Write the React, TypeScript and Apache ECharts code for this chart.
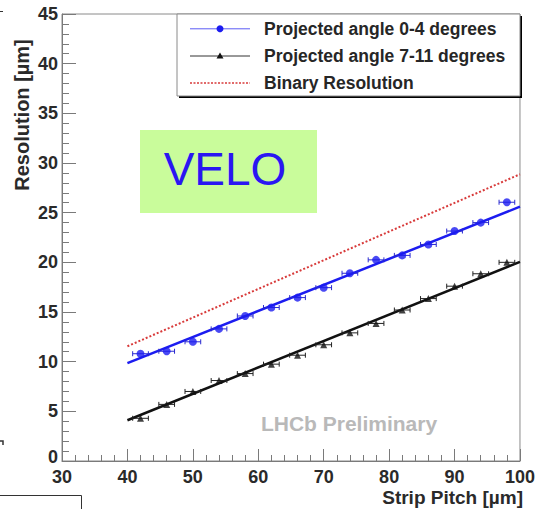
import React, { useEffect, useRef } from "react";
import * as echarts from "echarts";

// Strip pitch of each measured point [µm]
const pitch = [42, 46, 50, 54, 58, 62, 66, 70, 74, 78, 82, 86, 90, 94, 98];
// Measured resolution [µm], projected angle 0-4 degrees
const resLowAngle = [10.8, 11.05, 12.0, 13.3, 14.6, 15.45, 16.45, 17.45, 18.9, 20.25, 20.7, 21.8, 23.15, 24.0, 26.05];
// Measured resolution [µm], projected angle 7-11 degrees
const resHighAngle = [4.3, 5.7, 7.0, 8.1, 8.8, 9.75, 10.65, 11.7, 12.9, 13.85, 15.2, 16.35, 17.6, 18.85, 20.0];
// Half-width of the horizontal error bars [µm]
const pitchErr = 1.2;

// Straight-line fits and binary resolution, evaluated at the ends of the pitch range
const fitRange = [40, 100];
const fitLowAngle = [9.85, 25.6];
const fitHighAngle = [4.1, 20.05];
const binaryRes = [11.55, 28.87];

const xTicks = { min: 30, max: 100, interval: 10 };
const yTicks = { min: 0, max: 45, interval: 5 };

const legendNames = [
  "Projected angle 0-4 degrees",
  "Projected angle 7-11 degrees",
  "Binary Resolution",
];

const FONT = "'Liberation Sans', Arial, Helvetica, sans-serif";
const BLUE = "#1c1cf0";
const BLACK = "#111111";
const RED = "#d83a3a";

const pairs = (xs: number[], ys: number[]) => xs.map((x, i) => [x, ys[i]]);

function errorBars(color: string) {
  return (params: any, api: any) => {
    const x = api.value(0);
    const y = api.value(1);
    const a = api.coord([x - pitchErr, y]);
    const b = api.coord([x + pitchErr, y]);
    const st = { stroke: color, lineWidth: 1 };
    return {
      type: "group",
      children: [
        { type: "line", shape: { x1: a[0], y1: a[1], x2: b[0], y2: b[1] }, style: st },
        { type: "line", shape: { x1: a[0], y1: a[1] - 2.5, x2: a[0], y2: a[1] + 2.5 }, style: st },
        { type: "line", shape: { x1: b[0], y1: b[1] - 2.5, x2: b[0], y2: b[1] + 2.5 }, style: st },
      ],
    };
  };
}

export default function App() {
  const ref = useRef<HTMLDivElement>(null);

  useEffect(() => {
    if (!ref.current) return;
    const chart = echarts.init(ref.current, null, { renderer: "svg" });

    const axisLabel = {
      fontFamily: FONT,
      fontWeight: "bold",
      fontSize: 18,
      color: "#2a2a2a",
    };

    const legendRowY = [28.8, 56, 83];

    chart.setOption({
      animation: false,
      backgroundColor: "#ffffff",
      grid: {
        left: 62,
        right: 15,
        top: 14,
        bottom: 48,
        show: true,
        borderColor: "#8a8a8a",
        borderWidth: 1,
        backgroundColor: "transparent",
      },
      xAxis: {
        type: "value",
        min: xTicks.min,
        max: xTicks.max,
        interval: xTicks.interval,
        splitLine: { show: false },
        axisLine: { show: true, lineStyle: { color: "#7a7a7a", width: 1 } },
        axisTick: { show: true, inside: true, length: 12, lineStyle: { color: "#7a7a7a" } },
        minorTick: { show: true, splitNumber: 5, length: 6, lineStyle: { color: "#7a7a7a" } },
        axisLabel: { ...axisLabel, margin: 7 },
      },
      yAxis: {
        type: "value",
        min: yTicks.min,
        max: yTicks.max,
        interval: yTicks.interval,
        splitLine: { show: false },
        axisLine: { show: true, lineStyle: { color: "#7a7a7a", width: 1 } },
        axisTick: { show: true, inside: true, length: 14, lineStyle: { color: "#7a7a7a" } },
        minorTick: { show: true, splitNumber: 5, length: 7, lineStyle: { color: "#7a7a7a" } },
        axisLabel: {
          ...axisLabel,
          margin: 4,
          // the zero label sits a little higher so it clears the x-axis labels
          formatter: (v: number) => (v === 0 ? "{zero|0}" : String(v)),
          rich: {
            zero: {
              fontFamily: FONT,
              fontWeight: "bold",
              fontSize: 18,
              color: "#2a2a2a",
              padding: [0, 0, 8, 0],
            },
          },
        },
      },
      series: [
        {
          name: "binary",
          type: "line",
          data: pairs(fitRange, binaryRes),
          showSymbol: false,
          lineStyle: { color: RED, width: 2, type: [2, 2] },
          z: 2,
        },
        {
          name: "fitLow",
          type: "line",
          data: pairs(fitRange, fitLowAngle),
          showSymbol: false,
          lineStyle: { color: BLUE, width: 2.5 },
          z: 2,
        },
        {
          name: "fitHigh",
          type: "line",
          data: pairs(fitRange, fitHighAngle),
          showSymbol: false,
          lineStyle: { color: BLACK, width: 2.5 },
          z: 2,
        },
        {
          name: "errLow",
          type: "custom",
          data: pairs(pitch, resLowAngle),
          encode: { x: 0, y: 1 },
          renderItem: errorBars("#2a2ad0"),
          z: 3,
        },
        {
          name: "errHigh",
          type: "custom",
          data: pairs(pitch, resHighAngle),
          encode: { x: 0, y: 1 },
          renderItem: errorBars("#222222"),
          z: 3,
        },
        {
          name: legendNames[0],
          type: "scatter",
          data: pairs(pitch, resLowAngle),
          symbol: "circle",
          symbolSize: 8,
          itemStyle: { color: BLUE },
          z: 4,
        },
        {
          name: legendNames[1],
          type: "scatter",
          data: pairs(pitch, resHighAngle),
          symbol: "triangle",
          symbolSize: 7,
          itemStyle: { color: BLACK },
          z: 4,
        },
      ],
      graphic: [
        // VELO label box
        {
          type: "rect",
          shape: { x: 140, y: 130, width: 177, height: 83 },
          style: { fill: "#c9fc9b" },
          z: 1,
        },
        {
          type: "text",
          x: 225,
          y: 169,
          style: {
            text: "VELO",
            fontFamily: FONT,
            fontSize: 46,
            fill: "#2a16f2",
            align: "center",
            verticalAlign: "middle",
          },
          z: 1,
        },
        {
          type: "text",
          x: 349,
          y: 423,
          style: {
            text: "LHCb Preliminary",
            fontFamily: FONT,
            fontWeight: "bold",
            fontSize: 21,
            fill: "#b9b9b9",
            align: "center",
            verticalAlign: "middle",
          },
          z: 1,
        },
        // axis titles
        {
          type: "text",
          x: 22,
          y: 115,
          rotation: Math.PI / 2,
          style: {
            text: "Resolution [µm]",
            fontFamily: FONT,
            fontWeight: "bold",
            fontSize: 20,
            fill: "#2a2a2a",
            align: "center",
            verticalAlign: "middle",
          },
        },
        {
          type: "text",
          x: 523,
          y: 497,
          style: {
            text: "Strip Pitch [µm]",
            fontFamily: FONT,
            fontWeight: "bold",
            fontSize: 19,
            fill: "#2a2a2a",
            align: "right",
            verticalAlign: "middle",
          },
        },
        // legend box with drop shadow
        {
          type: "rect",
          shape: { x: 179, y: 16, width: 343, height: 82 },
          style: { fill: "#000000" },
          z: 10,
        },
        {
          type: "rect",
          shape: { x: 177, y: 14, width: 343, height: 82 },
          style: { fill: "#ffffff", stroke: "#8a8a8a", lineWidth: 1 },
          z: 11,
        },
        {
          type: "line",
          shape: { x1: 190, y1: legendRowY[0], x2: 250, y2: legendRowY[0] },
          style: { stroke: "#5c5cf5", lineWidth: 1 },
          z: 12,
        },
        {
          type: "circle",
          shape: { cx: 220, cy: legendRowY[0], r: 3.5 },
          style: { fill: BLUE },
          z: 12,
        },
        {
          type: "line",
          shape: { x1: 190, y1: legendRowY[1], x2: 250, y2: legendRowY[1] },
          style: { stroke: "#333333", lineWidth: 1 },
          z: 12,
        },
        {
          type: "polygon",
          shape: { points: [[220, legendRowY[1] - 3.5], [223.5, legendRowY[1] + 2.5], [216.5, legendRowY[1] + 2.5]] },
          style: { fill: BLACK },
          z: 12,
        },
        {
          type: "line",
          shape: { x1: 190, y1: legendRowY[2], x2: 250, y2: legendRowY[2] },
          style: { stroke: RED, lineWidth: 1.5, lineDash: [2, 1.5] },
          z: 12,
        },
        ...legendNames.map((name, i) => ({
          type: "text",
          x: 264,
          y: legendRowY[i],
          style: {
            text: name,
            fontFamily: FONT,
            fontWeight: "bold",
            fontSize: 17.5,
            fill: "#262626",
            align: "left",
            verticalAlign: "middle",
          },
          z: 12,
        })),
        // page border fragments at the left edge
        {
          type: "line",
          shape: { x1: 0, y1: 11.5, x2: 3, y2: 11.5 },
          style: { stroke: "#333", lineWidth: 1 },
        },
        {
          type: "polyline",
          shape: { points: [[0, 441], [3, 441], [3, 445]] },
          style: { stroke: "#333", lineWidth: 1.5, fill: "none" },
        },
        {
          type: "polyline",
          shape: { points: [[0, 495.5], [81.5, 495.5], [81.5, 509]] },
          style: { stroke: "#333", lineWidth: 1, fill: "none" },
        },
      ],
    });

    return () => chart.dispose();
  }, []);

  return (
    <div
      ref={ref}
      style={{ position: "fixed", left: 0, top: 0, width: 538, height: 509 }}
    />
  );
}
